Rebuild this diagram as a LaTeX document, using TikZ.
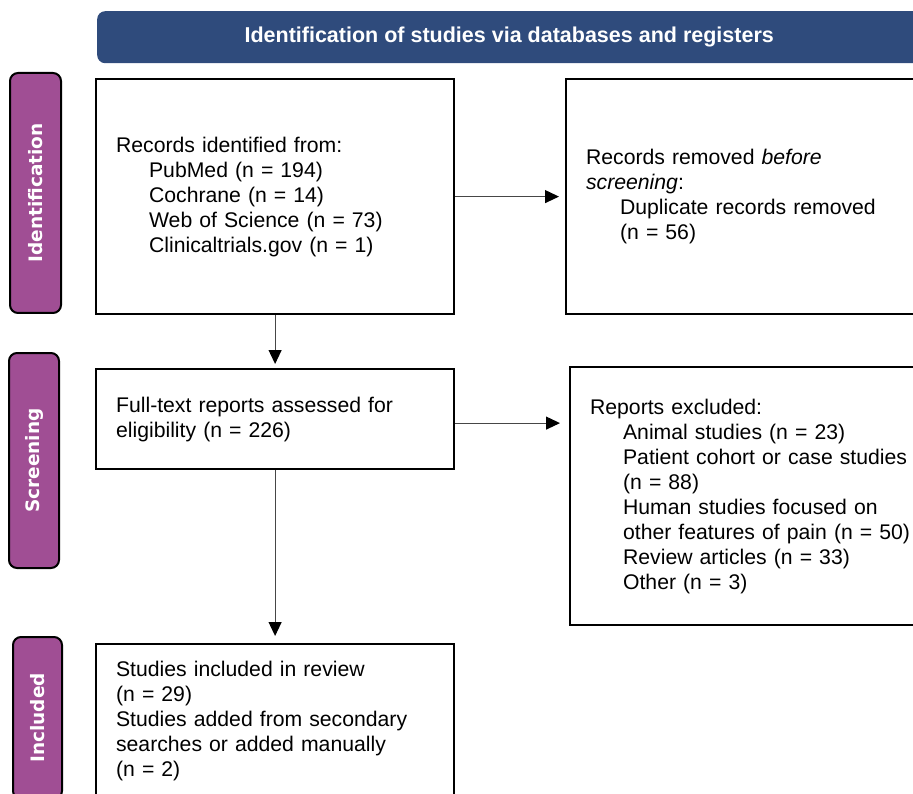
\documentclass[tikz,border=0pt]{standalone}
\usepackage{fontspec}
\setmainfont{Liberation Sans}
\newfontfamily\sidefont{DejaVu Sans}
\usetikzlibrary{arrows.meta,calc}
\definecolor{bannerblue}{RGB}{47,75,124}
\definecolor{sidepurple}{RGB}{160,78,148}
\definecolor{arrowgray}{RGB}{70,70,70}
\begin{document}
\begin{tikzpicture}[x=1pt,y=-1pt,
  box/.style={draw=black,line width=2.2pt,rectangle,anchor=north west,align=left,
    inner xsep=20pt,inner ysep=2pt,font=\fontsize{21.2}{25}\selectfont},
  sidelabel/.style={draw=black,line width=2pt,fill=sidepurple,rounded corners=8pt,rotate=90,
    text=white,font=\sidefont\bfseries\fontsize{18.5}{20}\selectfont,inner sep=0pt},
  banner/.style={fill=bannerblue,rounded corners=8pt,anchor=north west,text=white,
    font=\bfseries\fontsize{21.5}{25}\selectfont,inner sep=0pt},
  flow/.style={draw=arrowgray,line width=1.1pt,-{Triangle[length=14pt,width=13pt,color=black]}}
]
\useasboundingbox (0,0) rectangle (913,794);

\node[banner,minimum width=824pt,minimum height=52pt] (head) at (97,11)
  {Identification of studies via databases and registers};

\node[sidelabel,minimum width=240pt,minimum height=51pt] (sid1) at (35.5,193) {Identification};
\node[sidelabel,minimum width=215pt,minimum height=50pt] (sid2) at (34,460.5) {Screening};
\node[sidelabel,minimum width=162pt,minimum height=49pt] (sid3) at (37.5,718) {Included};

\node[box,text width=318pt,minimum height=235pt] (b1) at (95,78)
  {Records identified from:\\
   \hspace*{33pt}PubMed (n = 194)\\
   \hspace*{33pt}Cochrane (n = 14)\\
   \hspace*{33pt}Web of Science (n = 73)\\
   \hspace*{33pt}Clinicaltrials.gov (n = 1)};

\node[box,text width=340pt,minimum height=235pt] (b2) at (565,78)
  {Records removed \textit{before}\\
   \textit{screening}:\\
   \hspace*{34pt}Duplicate records removed\\
   \hspace*{34pt}(n = 56)};

\node[box,text width=318pt,minimum height=100pt] (b3) at (95,368)
  {Full-text reports assessed for\\
   eligibility (n = 226)};

\node[box,text width=340pt,minimum height=258pt] (b4) at (569,366)
  {Reports excluded:\\
   \hspace*{33pt}Animal studies (n = 23)\\
   \hspace*{33pt}Patient cohort or case studies\\
   \hspace*{33pt}(n = 88)\\
   \hspace*{33pt}Human studies focused on\\
   \hspace*{33pt}other features of pain (n = 50)\\
   \hspace*{33pt}Review articles (n = 33)\\
   \hspace*{33pt}Other (n = 3)};

\node[box,text width=318pt,minimum height=154pt] (b5) at (95,643)
  {Studies included in review\\
   (n = 29)\\
   Studies added from secondary\\
   searches or added manually\\
   (n = 2)};

\coordinate (a3) at ($(b3.east)+(0,4)$);
\draw[flow,shorten >=6pt] (b1.east) -- (b2.west);
\draw[flow,shorten >=4pt] (b1.south) -- (b3.north);
\draw[flow,shorten >=9pt] (a3) -- (a3 -| b4.west);
\draw[flow,shorten >=7pt] (b3.south) -- (b5.north);
\end{tikzpicture}
\end{document}
